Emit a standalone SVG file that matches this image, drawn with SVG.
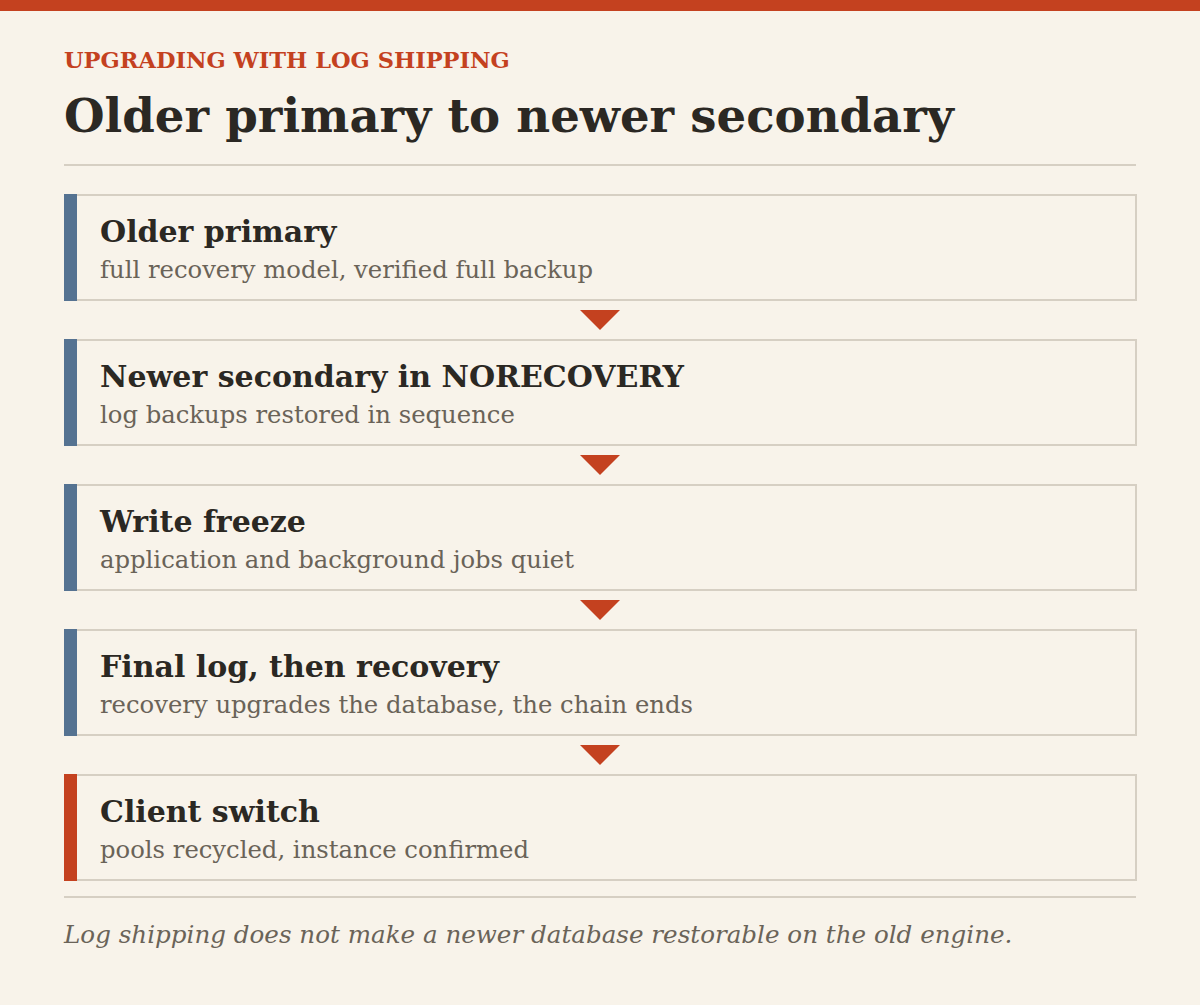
<svg xmlns="http://www.w3.org/2000/svg" width="1200" height="1005" viewBox="0 0 1200 1005">
<style>
.bg{fill:#F8F3EA}
.box{fill:#F8F3EA;stroke:#D6CFC3;stroke-width:2}
.acc{fill:#557291}
.acc2{fill:#C4411F}
.kick{font-family:"DejaVu Serif","Liberation Serif",serif;font-weight:bold;font-size:22.5px;fill:#C4411F}
.title{font-family:"DejaVu Serif","Liberation Serif",serif;font-weight:bold;font-size:46.6px;fill:#2B2823}
.nt{font-family:"DejaVu Serif","Liberation Serif",serif;font-weight:bold;font-size:30px;fill:#2B2823}
.ns{font-family:"DejaVu Serif","Liberation Serif",serif;font-size:24.3px;fill:#6A6358}
.foot{font-family:"DejaVu Serif","Liberation Serif",serif;font-style:italic;font-size:24.6px;fill:#6A6358}
.rule{stroke:#D6CFC3;stroke-width:2}
.arr{fill:#C4411F}
</style>
<rect class="bg" x="0" y="0" width="1200" height="1005"/>
<rect class="acc2" x="0" y="0" width="1200" height="11"/>
<text class="kick" x="64" y="68">UPGRADING WITH LOG SHIPPING</text>
<text class="title" x="64" y="132">Older primary to newer secondary</text>
<line class="rule" x1="64" y1="165" x2="1136" y2="165"/>
<g id="node1">
<rect class="box" x="65" y="195" width="1071" height="105"/>
<rect class="acc" x="64" y="194" width="13" height="107"/>
<text class="nt" x="100" y="242">Older primary</text>
<text class="ns" x="100" y="278">full recovery model, verified full backup</text>
</g>
<g id="node2">
<rect class="box" x="65" y="340" width="1071" height="105"/>
<rect class="acc" x="64" y="339" width="13" height="107"/>
<text class="nt" x="100" y="387">Newer secondary in NORECOVERY</text>
<text class="ns" x="100" y="423">log backups restored in sequence</text>
</g>
<g id="node3">
<rect class="box" x="65" y="485" width="1071" height="105"/>
<rect class="acc" x="64" y="484" width="13" height="107"/>
<text class="nt" x="100" y="532">Write freeze</text>
<text class="ns" x="100" y="568">application and background jobs quiet</text>
</g>
<g id="node4">
<rect class="box" x="65" y="630" width="1071" height="105"/>
<rect class="acc" x="64" y="629" width="13" height="107"/>
<text class="nt" x="100" y="677">Final log, then recovery</text>
<text class="ns" x="100" y="713">recovery upgrades the database, the chain ends</text>
</g>
<g id="node5">
<rect class="box" x="65" y="775" width="1071" height="105"/>
<rect class="acc2" x="64" y="774" width="13" height="107"/>
<text class="nt" x="100" y="822">Client switch</text>
<text class="ns" x="100" y="858">pools recycled, instance confirmed</text>
</g>
<g id="connectors">
<polygon class="arr" points="580,310 620,310 600,330"/>
<polygon class="arr" points="580,455 620,455 600,475"/>
<polygon class="arr" points="580,600 620,600 600,620"/>
<polygon class="arr" points="580,745 620,745 600,765"/>
</g>
<line class="rule" x1="64" y1="897" x2="1136" y2="897"/>
<text class="foot" x="64" y="943">Log shipping does not make a newer database restorable on the old engine.</text>
</svg>
